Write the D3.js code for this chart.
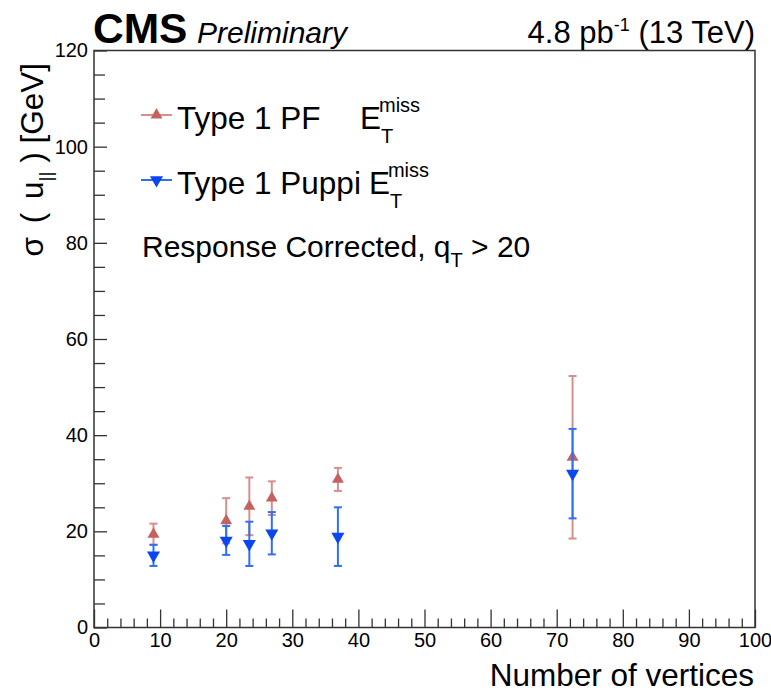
<!DOCTYPE html>
<html>
<head>
<meta charset="utf-8">
<script src="https://cdn.jsdelivr.net/npm/d3@7"></script>
<style>
  html, body { margin: 0; padding: 0; background: #fff; }
  svg { display: block; }
  text { font-family: "Liberation Sans", Arial, Helvetica, sans-serif; fill: #000; }
  .tick text { font-family: "Liberation Sans Narrow", "Liberation Sans", Arial, sans-serif; font-size: 20px; }
</style>
</head>
<body>
<svg id="chart" width="771" height="693"></svg>
<script>
// ---- Data ----
const vertices      = [9.0, 20.0, 23.5, 26.9, 36.9, 72.4];
const pfSigma       = [19.4, 22.2, 25.2, 26.9, 30.8, 35.4];
const pfErr         = [2.2, 4.7, 6.0, 3.5, 2.4, 16.9];
const puppiSigma    = [15.0, 18.1, 17.4, 19.6, 18.9, 32.0];
const puppiErr      = [2.2, 3.0, 4.6, 4.4, 6.1, 9.3];
const xMajorTicks   = [0, 10, 20, 30, 40, 50, 60, 70, 80, 90, 100];
const yMajorTicks   = [0, 20, 40, 60, 80, 100, 120];
const xDomain = [0, 100];
const yDomain = [0, 120];

const svg = d3.select("#chart");
const W = 771, H = 693;
const margin = { left: 94, right: 16, top: 50.5, bottom: 65.5 };
const x = d3.scaleLinear().domain(xDomain).range([margin.left, W - margin.right]);
const y = d3.scaleLinear().domain(yDomain).range([H - margin.bottom, margin.top]);

const axisColor = "#333";

// ---- Axes ----
const xMinor = d3.range(0, 101, 2).filter(v => v % 10 !== 0);
const yMinor = d3.range(0, 121, 5).filter(v => v % 20 !== 0);

const gx = svg.append("g").attr("transform", `translate(0,${y(0)})`)
  .call(d3.axisBottom(x).tickValues(xMajorTicks).tickSize(-18).tickPadding(5).tickFormat(d3.format("d")));
const gxm = svg.append("g").attr("transform", `translate(0,${y(0)})`)
  .call(d3.axisBottom(x).tickValues(xMinor).tickSize(-9).tickFormat(""));
const gy = svg.append("g").attr("transform", `translate(${x(0)},0)`)
  .call(d3.axisLeft(y).tickValues(yMajorTicks).tickSize(-13).tickPadding(6).tickFormat(d3.format("d")));
const gym = svg.append("g").attr("transform", `translate(${x(0)},0)`)
  .call(d3.axisLeft(y).tickValues(yMinor).tickSize(-11).tickFormat(""));

[gx, gxm, gy, gym].forEach(g => {
  g.select(".domain").remove();
  g.selectAll(".tick line").attr("stroke", axisColor).attr("stroke-width", 1.3);
});
gx.selectAll(".tick text").attr("fill", "#000");
gy.selectAll(".tick text").attr("fill", "#000");

// frame
svg.append("rect")
  .attr("x", x(0)).attr("y", y(120))
  .attr("width", x(100) - x(0)).attr("height", y(0) - y(120))
  .attr("fill", "none").attr("stroke", axisColor).attr("stroke-width", 1.5);

// ---- Series ----
const series = [
  { name: "pf", vals: pfSigma, errs: pfErr, marker: "#c4625f", bar: "#d68f8c", rot: 0, size: 62 },
  { name: "puppi", vals: puppiSigma, errs: puppiErr, marker: "#0a46f2", bar: "#2f6ff3", rot: 180, size: 74 }
];

series.forEach(s => {
  const g = svg.append("g");
  const pts = vertices.map((v, i) => ({ x: v, y: s.vals[i], e: s.errs[i] }));
  const cap = 4;
  pts.forEach(p => {
    g.append("line").attr("x1", x(p.x)).attr("x2", x(p.x))
      .attr("y1", y(p.y + p.e)).attr("y2", y(p.y - p.e))
      .attr("stroke", s.bar).attr("stroke-width", 2);
    [p.y + p.e, p.y - p.e].forEach(v => {
      g.append("line").attr("x1", x(p.x) - cap).attr("x2", x(p.x) + cap)
        .attr("y1", y(v)).attr("y2", y(v))
        .attr("stroke", s.bar).attr("stroke-width", 2);
    });
  });
  g.selectAll("path.m").data(pts).join("path")
    .attr("d", d3.symbol(d3.symbolTriangle, s.size))
    .attr("transform", p => `translate(${x(p.x)},${y(p.y)}) rotate(${s.rot})`)
    .attr("fill", s.marker);
});

// ---- Header ----
svg.append("text").attr("x", 93).attr("y", 43)
  .style("font-size", "42.5px").style("font-weight", "bold").text("CMS");
svg.append("text").attr("x", 197).attr("y", 43)
  .style("font-size", "30px").style("font-style", "italic").text("Preliminary");
const lumi = svg.append("text").attr("x", 755).attr("y", 43).attr("text-anchor", "end")
  .style("font-size", "31px");
lumi.append("tspan").text("4.8 pb");
lumi.append("tspan").attr("dy", -12).style("font-size", "18px").text("-1");
lumi.append("tspan").attr("dy", 12).text(" (13 TeV)");

// ---- Axis titles ----
svg.append("text").attr("x", 754).attr("y", 686).attr("text-anchor", "end")
  .style("font-size", "31.5px").text("Number of vertices");

const yt = svg.append("text").attr("transform", `translate(43,63) rotate(-90)`)
  .attr("text-anchor", "end").style("font-size", "31.5px");
yt.append("tspan").text("σ");
yt.append("tspan").attr("dx", 5).text(" (");
yt.append("tspan").attr("dx", 5).text(" u");
yt.append("tspan").attr("dy", 9).style("font-size", "19px").text("||");
yt.append("tspan").attr("dy", -9).text(" ) [GeV]");

// ---- Legend ----
function emiss(xE, base) {
  const e = svg.append("text").attr("x", xE).attr("y", base).style("font-size", "31.5px").text("E");
  const w = e.node().getComputedTextLength();
  svg.append("text").attr("x", xE + w - 2).attr("y", base - 17).style("font-size", "20px").text("miss");
  svg.append("text").attr("x", xE + w).attr("y", base + 14).style("font-size", "20px").text("T");
}
const legendRows = [
  { s: series[0], label: "Type 1 PF", lineY: 115, base: 129 },
  { s: series[1], label: "Type 1 Puppi", lineY: 180, base: 194 }
];
legendRows.forEach((r, i) => {
  svg.append("line").attr("x1", 141).attr("x2", 172).attr("y1", r.lineY).attr("y2", r.lineY)
    .attr("stroke", r.s.bar).attr("stroke-width", 2);
  svg.append("path").attr("d", d3.symbol(d3.symbolTriangle, r.s.size))
    .attr("transform", `translate(156.5,${r.lineY}) rotate(${r.s.rot})`).attr("fill", r.s.marker);
  const t = svg.append("text").attr("x", 177).attr("y", r.base).style("font-size", "31.5px").text(r.label);
  const w = t.node().getComputedTextLength();
  const xE = i === 0 ? 360 : 177 + w + 8;
  emiss(xE, r.base);
});

const rc = svg.append("text").attr("x", 142).attr("y", 257).style("font-size", "30px");
rc.append("tspan").text("Response Corrected, q");
rc.append("tspan").attr("dy", 10).style("font-size", "20px").text("T");
rc.append("tspan").attr("dy", -10).text(" > 20");
</script>
</body>
</html>
